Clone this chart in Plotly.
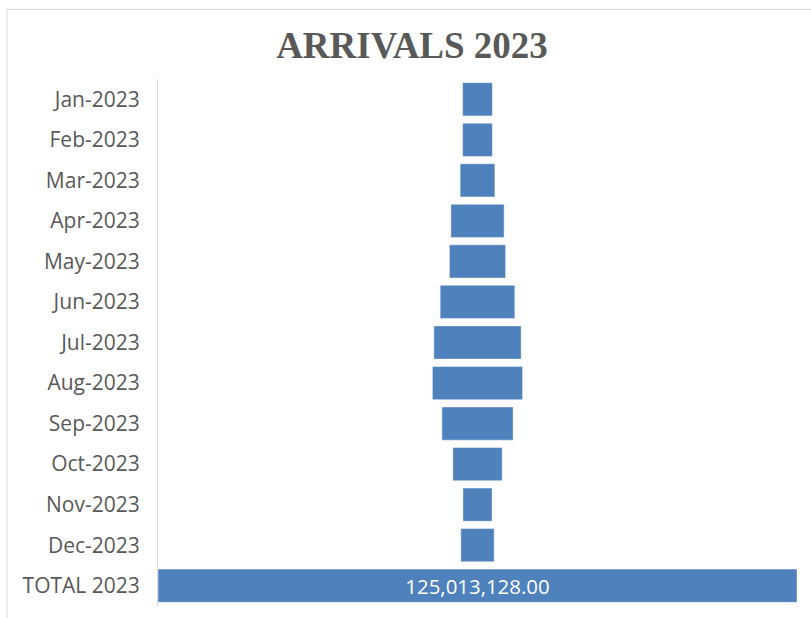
import plotly.graph_objects as go

# Monthly arrivals for 2023 and the yearly total
months = ["Jan-2023", "Feb-2023", "Mar-2023", "Apr-2023", "May-2023", "Jun-2023",
          "Jul-2023", "Aug-2023", "Sep-2023", "Oct-2023", "Nov-2023", "Dec-2023"]
month_values = [5_820_000, 5_830_000, 6_800_000, 10_420_000, 11_000_000, 14_610_000,
                17_080_000, 17_650_000, 13_930_000, 9_650_000, 5_700_000, 6_523_128]
total_label = "TOTAL 2023"
total_value = 125_013_128

categories = months + [total_label]
values = month_values + [total_value]
labels = [""] * len(months) + [f"{total_value:,.2f}"]

BLUE = "#4f81bd"
GREY = "#595959"

fig = go.Figure(
    go.Bar(
        y=categories,
        x=values,
        base=[-v / 2 for v in values],  # centre every bar on zero
        orientation="h",
        marker=dict(color=BLUE, line=dict(color="rgba(255,255,255,0.45)", width=1)),
        text=labels,
        textposition="inside",
        insidetextanchor="middle",
        textfont=dict(family="Open Sans, Liberation Sans, sans-serif", size=21, color="white"),
        hoverinfo="skip",
    )
)

fig.update_layout(
    width=811,
    height=618,
    paper_bgcolor="white",
    plot_bgcolor="white",
    margin=dict(l=158, r=14, t=79, b=12),
    bargap=0.18,
    showlegend=False,
    title=dict(
        text="<b>ARRIVALS 2023</b>",
        x=412 / 811,
        xref="container",
        xanchor="center",
        y=1 - 45 / 618,
        yref="container",
        yanchor="middle",
        font=dict(family="Liberation Serif, Times New Roman, serif", size=37, color=GREY),
    ),
    xaxis=dict(
        range=[-total_value / 2, total_value / 2],
        visible=False,
        fixedrange=True,
    ),
    yaxis=dict(
        categoryorder="array",
        categoryarray=categories,
        autorange="reversed",
        showline=True,
        linecolor="#d9d9d9",
        linewidth=1,
        showgrid=False,
        ticks="",
        ticklabelstandoff=13,
        tickfont=dict(family="Open Sans, Liberation Sans, sans-serif", size=21, color=GREY),
    ),
    shapes=[
        dict(
            type="rect",
            xref="paper",
            yref="paper",
            x0=-0.2363,
            x1=1.2,
            y0=-0.2,
            y1=1.132,
            line=dict(color="#d9d9d9", width=1),
            fillcolor="rgba(0,0,0,0)",
            layer="below",
        )
    ],
)

fig.write_html("out.html")
